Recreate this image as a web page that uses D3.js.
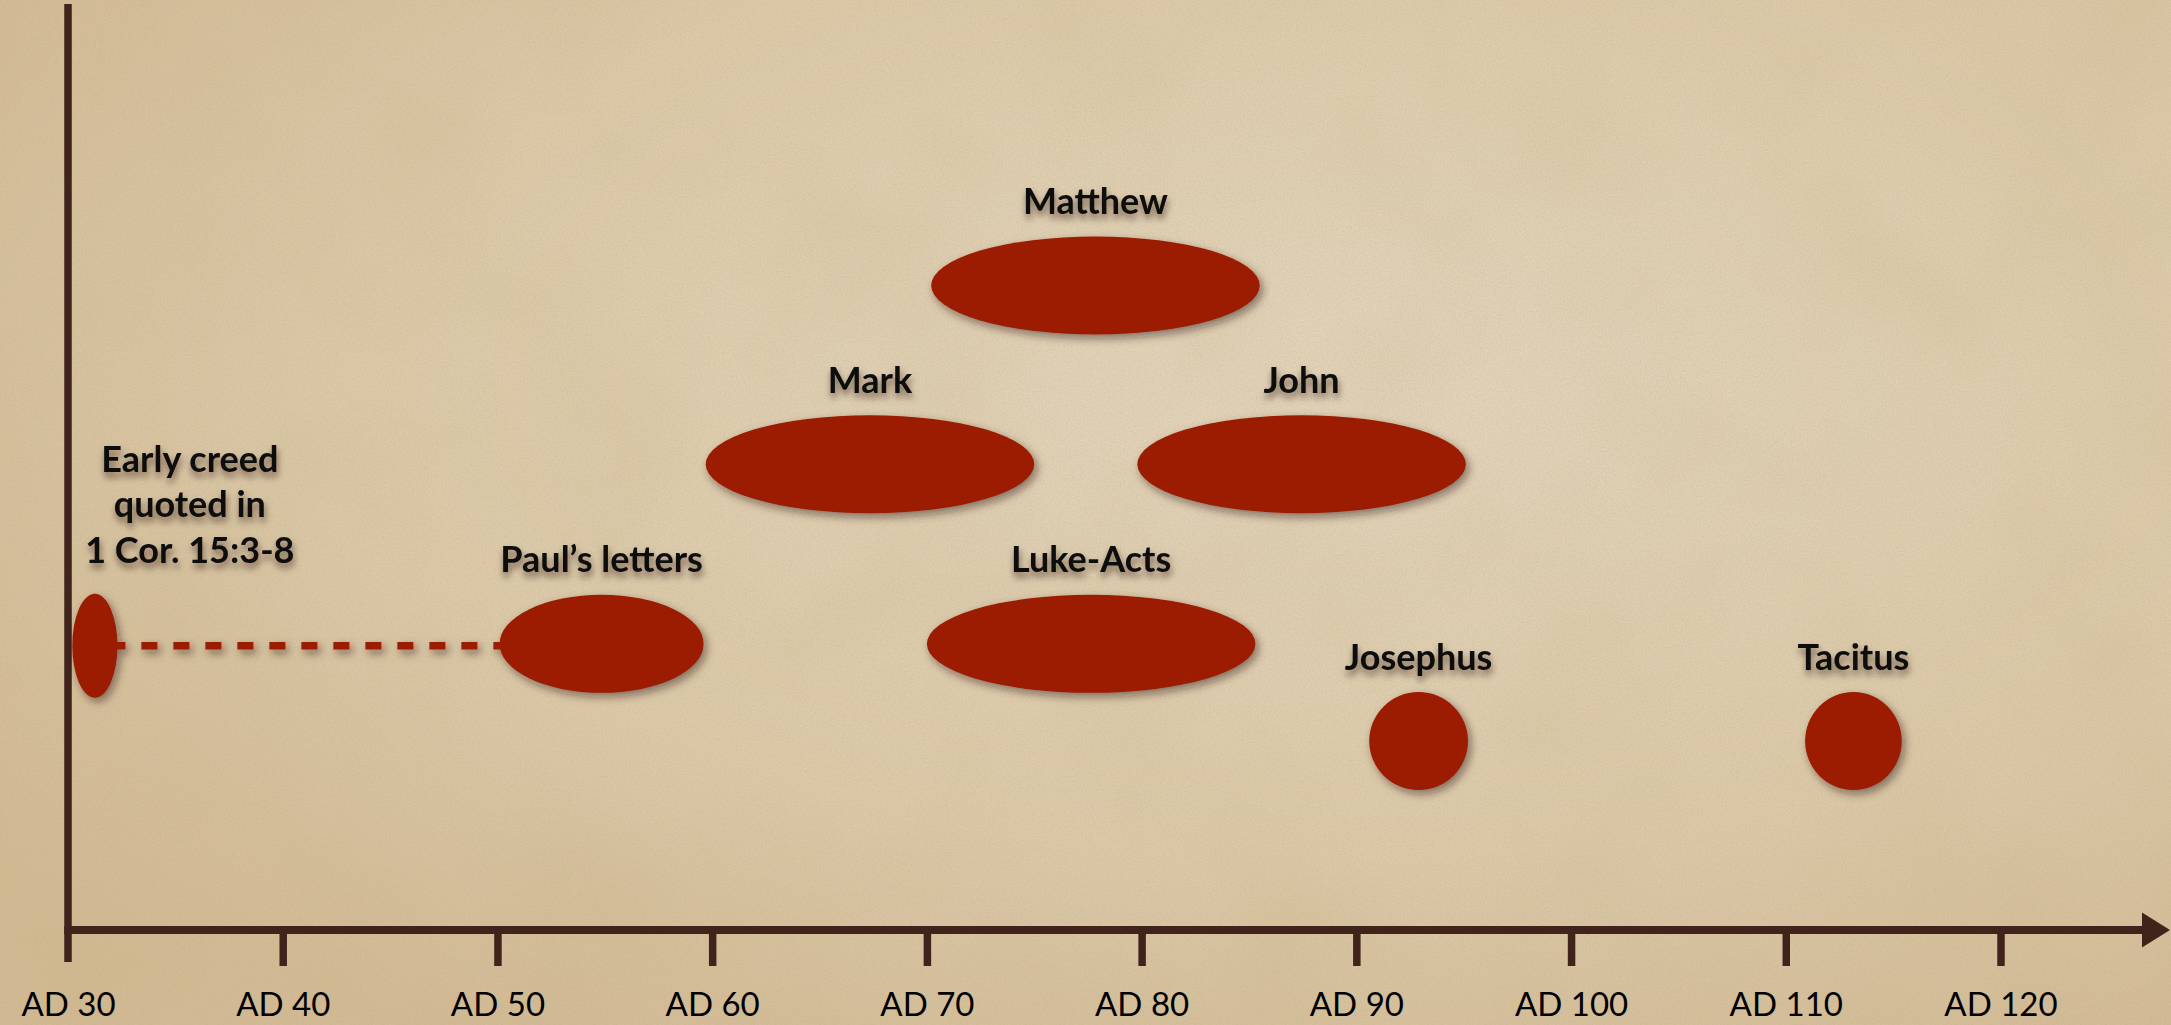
<!DOCTYPE html>
<html>
<head>
<meta charset="utf-8">
<script src="https://cdn.jsdelivr.net/npm/d3@7"></script>
<style>
  html, body { margin: 0; padding: 0; background: #dcc8a6; }
  svg { display: block; }
</style>
</head>
<body>
<svg id="chart" width="2171" height="1025"></svg>
<script>
// Timeline ticks (years AD)
const tickYears = [30, 40, 50, 60, 70, 80, 90, 100, 110, 120];
const tickLabels = ["AD 30", "AD 40", "AD 50", "AD 60", "AD 70", "AD 80", "AD 90", "AD 100", "AD 110", "AD 120"];

// Sources: label lines, estimated date range (start/end year), and row level
const sourceLabels = [
  ["Early creed", "quoted in", "1 Cor. 15:3-8"],
  ["Paul’s letters"],
  ["Mark"],
  ["Matthew"],
  ["Luke-Acts"],
  ["John"],
  ["Josephus"],
  ["Tacitus"]
];
const startYear = [30.2, 50.1, 59.7, 70.2, 70.0, 79.8, 90.6, 110.9];
const endYear   = [32.3, 59.6, 75.0, 85.5, 85.3, 95.1, 95.2, 115.4];
const rowLevel  = [3.07, 3.09, 5.03, 6.96, 3.09, 5.03, 2.04, 2.04];

// Link from the early creed to Paul's letters
const linkFrom = 0, linkTo = 1;

const W = 2171, H = 1025;
const axisColor = "#40241c";
const markColor = "#9b1b00";

const svg = d3.select("#chart");
const defs = svg.append("defs");

// Parchment background
const grad = defs.append("radialGradient").attr("id", "paper")
  .attr("cx", "62%").attr("cy", "38%").attr("r", "75%");
grad.append("stop").attr("offset", "0%").attr("stop-color", "#e3d4bb");
grad.append("stop").attr("offset", "60%").attr("stop-color", "#dbc9a8");
grad.append("stop").attr("offset", "100%").attr("stop-color", "#d2ba94");

const grain = defs.append("filter").attr("id", "grain")
  .attr("x", 0).attr("y", 0).attr("width", "100%").attr("height", "100%");
grain.append("feTurbulence").attr("type", "fractalNoise")
  .attr("baseFrequency", 0.55).attr("numOctaves", 3).attr("seed", 7).attr("result", "n");
grain.append("feColorMatrix").attr("in", "n").attr("type", "matrix")
  .attr("values", "0 0 0 0 0.45  0 0 0 0 0.36  0 0 0 0 0.22  0 0 0 -1.6 1.05");

const mottle = defs.append("filter").attr("id", "mottle")
  .attr("x", 0).attr("y", 0).attr("width", "100%").attr("height", "100%");
mottle.append("feTurbulence").attr("type", "fractalNoise")
  .attr("baseFrequency", 0.006).attr("numOctaves", 3).attr("seed", 3).attr("result", "m");
mottle.append("feColorMatrix").attr("in", "m").attr("type", "matrix")
  .attr("values", "0 0 0 0 0.55  0 0 0 0 0.42  0 0 0 0 0.22  0 0 0 -2.2 1.25");

// Soft shadows for marks and labels
const markShadow = defs.append("filter").attr("id", "markShadow")
  .attr("x", "-20%").attr("y", "-20%").attr("width", "140%").attr("height", "150%");
markShadow.append("feDropShadow").attr("dx", 3).attr("dy", 4).attr("stdDeviation", 4)
  .attr("flood-color", "#2a1608").attr("flood-opacity", 0.5);

const textShadow = defs.append("filter").attr("id", "textShadow")
  .attr("x", "-10%").attr("y", "-30%").attr("width", "120%").attr("height", "170%");
textShadow.append("feDropShadow").attr("dx", 1).attr("dy", 5).attr("stdDeviation", 3.5)
  .attr("flood-color", "#1a0f05").attr("flood-opacity", 0.55);

svg.append("rect").attr("width", W).attr("height", H).attr("fill", "url(#paper)");
svg.append("rect").attr("width", W).attr("height", H).attr("filter", "url(#mottle)").attr("opacity", 0.14);
svg.append("rect").attr("width", W).attr("height", H).attr("filter", "url(#grain)").attr("opacity", 0.24);

// Scales
const x = d3.scaleLinear().domain([30, 120]).range([68, 2000.5]);
const y = d3.scaleLinear().domain([0, 10]).range([930, 4]);

const rows = sourceLabels.map((lines, i) => ({
  lines, lo: startYear[i], hi: endYear[i], level: rowLevel[i], i
}));

// Vertical axis
svg.append("line")
  .attr("x1", x(30)).attr("x2", x(30))
  .attr("y1", y(10)).attr("y2", y(0) + 32)
  .attr("stroke", axisColor).attr("stroke-width", 7.5);

// Horizontal time axis
const axisG = svg.append("g").attr("transform", `translate(0,${y(0)})`)
  .call(d3.axisBottom(x).tickValues(tickYears)
    .tickFormat((d, i) => tickLabels[i]).tickSize(36).tickSizeOuter(0));
axisG.select(".domain").remove();
axisG.selectAll(".tick line").attr("stroke", axisColor).attr("stroke-width", 7.5);
axisG.selectAll(".tick").filter(d => d === 30).select("line").remove();
axisG.selectAll(".tick text")
  .attr("y", 86).attr("dy", 0)
  .attr("fill", "#000")
  .style("font-family", "Lato, 'Open Sans', sans-serif")
  .style("font-size", "33px");

const axisEnd = 2143;
svg.append("line")
  .attr("x1", x(30) - 3.75).attr("x2", axisEnd)
  .attr("y1", y(0)).attr("y2", y(0))
  .attr("stroke", axisColor).attr("stroke-width", 8);
svg.append("path")
  .attr("d", d3.line()([[axisEnd - 1, y(0) - 17.5], [W - 1, y(0)], [axisEnd - 1, y(0) + 17.5]]) + "Z")
  .attr("fill", axisColor);

// Marks layer
const ryFor = r => (r.i === linkFrom ? 52 : 49);

const marks = svg.append("g").attr("filter", "url(#markShadow)");

// Dashed link between early creed and Paul's letters
const a = rows[linkFrom], b = rows[linkTo];
marks.append("line")
  .attr("x1", x(a.hi) - 8).attr("x2", x(b.lo) + 8)
  .attr("y1", y(a.level)).attr("y2", y(a.level))
  .attr("stroke", markColor).attr("stroke-width", 7.5)
  .attr("stroke-dasharray", "16 16");

marks.selectAll("ellipse.src").data(rows).join("ellipse")
  .attr("class", "src")
  .attr("cx", d => (x(d.lo) + x(d.hi)) / 2)
  .attr("cy", d => y(d.level))
  .attr("rx", d => (x(d.hi) - x(d.lo)) / 2)
  .attr("ry", d => ryFor(d))
  .attr("fill", markColor);

// Labels above each mark
const labelFont = "Lato, 'Open Sans', sans-serif";
const labels = svg.append("g").attr("filter", "url(#textShadow)");
const lineGap = 45.5;

rows.forEach(d => {
  const cx = (x(d.lo) + x(d.hi)) / 2;
  const top = y(d.level) - ryFor(d);
  const multi = d.lines.length > 1;
  const lx = multi ? cx + 95 : cx;
  const lastBase = multi ? top - 31 : top - 22.5;
  const t = labels.append("text")
    .attr("text-anchor", "middle")
    .attr("fill", "#0a0a0a")
    .style("font-family", labelFont)
    .style("font-weight", 700)
    .style("font-size", "36px");
  d.lines.forEach((ln, k) => {
    t.append("tspan")
      .attr("x", lx)
      .attr("y", lastBase - (d.lines.length - 1 - k) * lineGap)
      .text(ln);
  });
});
</script>
</body>
</html>
